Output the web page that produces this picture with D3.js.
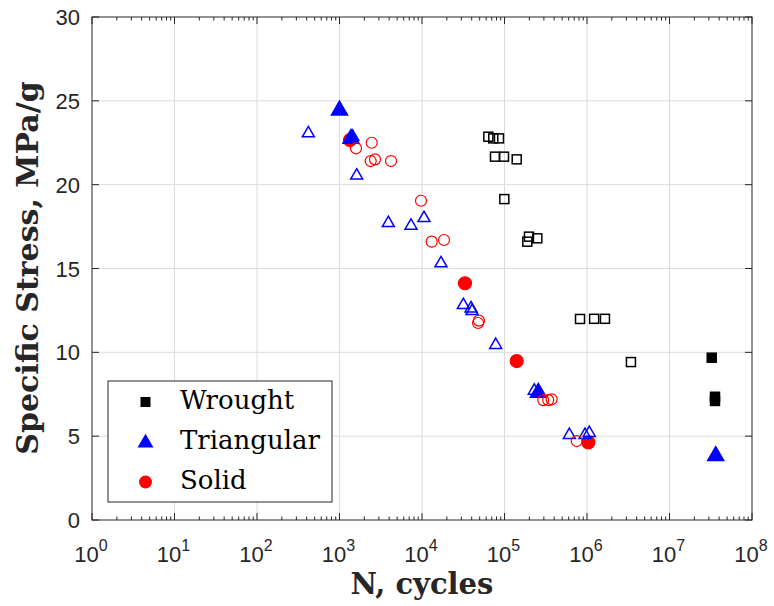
<!DOCTYPE html>
<html>
<head>
<meta charset="utf-8">
<script src="https://cdn.jsdelivr.net/npm/d3@7"></script>
<style>
  body { margin: 0; background: #fff; }
  svg { display: block; }
</style>
</head>
<body>
<svg id="chart" width="774" height="606"></svg>
<script>
// wrought alloy, open = test, filled = runout
var wroughtOpenN = [63700, 73100, 85700, 76700, 98600, 140600, 99500, 198000, 250000, 189000, 823000, 1220000, 1650000, 3410000];
var wroughtOpenS = [22.86, 22.76, 22.76, 21.67, 21.67, 21.51, 19.14, 16.90, 16.80, 16.60, 11.99, 12.0, 12.0, 9.42];
var wroughtFilledN = [32500000, 35600000, 35600000];
var wroughtFilledS = [9.68, 7.35, 7.1];

var triOpenN = [419, 1445, 1615, 3910, 7360, 10570, 16980, 31700, 39300, 40400, 78200, 229600, 611000, 946000, 1066000];
var triOpenS = [23.1, 22.9, 20.58, 17.75, 17.59, 18.05, 15.35, 12.86, 12.66, 12.5, 10.48, 7.75, 5.11, 5.11, 5.23];
var triFilledN = [1000, 1378, 257000, 36300000];
var triFilledS = [24.49, 22.8, 7.65, 3.88];

var solidOpenN = [1585, 2456, 2388, 2692, 4210, 9727, 13100, 18490, 49000, 47800, 295000, 339000, 373000, 750000];
var solidOpenS = [22.17, 22.5, 21.41, 21.51, 21.41, 19.04, 16.6, 16.7, 11.89, 11.75, 7.15, 7.15, 7.2, 4.71];
var solidFilledN = [1340, 33200, 140600, 1038000];
var solidFilledS = [22.66, 14.12, 9.48, 4.63];

var xTicks = [1, 10, 100, 1e3, 1e4, 1e5, 1e6, 1e7, 1e8];
var yTicks = [0, 5, 10, 15, 20, 25, 30];
var legendNames = ['Wrought', 'Triangular', 'Solid'];
var legendColors = ['#000000', '#0000ff', '#ff0000'];

var plotLeft = 92, plotRight = 752, plotTop = 17, plotBottom = 520;

var svg = d3.select('#chart');
var x = d3.scaleLog().domain([1, 1e8]).range([plotLeft, plotRight]);
var y = d3.scaleLinear().domain([0, 30]).range([plotBottom, plotTop]);

// grid
svg.append('g').selectAll('line').data(xTicks.slice(1, -1)).enter()
    .append('line')
        .attr('x1', function(d) { return x(d); })
        .attr('x2', function(d) { return x(d); })
        .attr('y1', plotTop).attr('y2', plotBottom)
        .attr('stroke', '#dcdcdc').attr('stroke-width', 1);
svg.append('g').selectAll('line').data(yTicks.slice(1, -1)).enter()
    .append('line')
        .attr('x1', plotLeft).attr('x2', plotRight)
        .attr('y1', function(d) { return y(d); })
        .attr('y2', function(d) { return y(d); })
        .attr('stroke', '#dcdcdc').attr('stroke-width', 1);

// ticks inside the box
var minor = [];
for (var e = 0; e < 8; e++) {
    for (var m = 2; m < 10; m++) minor.push(m * Math.pow(10, e));
}
var tickG = svg.append('g').attr('stroke', '#262626').attr('stroke-width', 1);
minor.forEach(function(d) {
    tickG.append('line').attr('x1', x(d)).attr('x2', x(d)).attr('y1', plotBottom).attr('y2', plotBottom - 3.5);
    tickG.append('line').attr('x1', x(d)).attr('x2', x(d)).attr('y1', plotTop).attr('y2', plotTop + 3.5);
});
xTicks.forEach(function(d) {
    tickG.append('line').attr('x1', x(d)).attr('x2', x(d)).attr('y1', plotBottom).attr('y2', plotBottom - 7);
    tickG.append('line').attr('x1', x(d)).attr('x2', x(d)).attr('y1', plotTop).attr('y2', plotTop + 7);
});
yTicks.forEach(function(d) {
    tickG.append('line').attr('x1', plotLeft).attr('x2', plotLeft + 7).attr('y1', y(d)).attr('y2', y(d));
    tickG.append('line').attr('x1', plotRight).attr('x2', plotRight - 7).attr('y1', y(d)).attr('y2', y(d));
});

svg.append('rect')
    .attr('x', plotLeft).attr('y', plotTop)
    .attr('width', plotRight - plotLeft).attr('height', plotBottom - plotTop)
    .attr('fill', 'none').attr('stroke', '#262626').attr('stroke-width', 1);

// tick labels
svg.append('g').selectAll('text').data(yTicks).enter()
    .append('text')
        .attr('x', plotLeft - 12)
        .attr('y', function(d) { return y(d) + 8; })
        .attr('text-anchor', 'end')
        .attr('font-family', 'Liberation Sans, Arial, sans-serif')
        .attr('font-size', 22)
        .attr('fill', '#262626')
        .text(function(d) { return d; });

var xl = svg.append('g').selectAll('text').data(xTicks).enter()
    .append('text')
        .attr('x', function(d) { return x(d) - 1; })
        .attr('y', 562)
        .attr('text-anchor', 'middle')
        .attr('font-family', 'Liberation Sans, Arial, sans-serif')
        .attr('font-size', 22)
        .attr('fill', '#262626');
xl.append('tspan').text('10');
xl.append('tspan')
    .attr('dy', -11)
    .attr('font-size', 16)
    .text(function(d) { return Math.round(Math.log10(d)); });

// axis titles
svg.append('text')
    .attr('x', 422).attr('y', 594)
    .attr('text-anchor', 'middle')
    .attr('font-family', 'DejaVu Serif, serif')
    .attr('font-weight', 'bold')
    .attr('font-size', 29)
    .attr('fill', '#262626')
    .text('N, cycles');
svg.append('text')
    .attr('transform', 'translate(38,268) rotate(-90)')
    .attr('text-anchor', 'middle')
    .attr('font-family', 'DejaVu Serif, serif')
    .attr('font-weight', 'bold')
    .attr('font-size', 30)
    .attr('fill', '#262626')
    .text('Specific Stress, MPa/g');

// markers
var triPath = function(size) {
    var h = size * 0.866;
    return 'M0,' + (-h * 0.6) + 'L' + (size / 2) + ',' + (h * 0.4) + 'L' + (-size / 2) + ',' + (h * 0.4) + 'Z';
};

function pts(ns, ss) {
    return ns.map(function(n, i) { return {n: n, s: ss[i]}; });
}

function drawSquares(data, size, filled) {
    svg.append('g').selectAll('rect').data(data).enter()
        .append('rect')
            .attr('x', function(d) { return x(d.n) - size / 2; })
            .attr('y', function(d) { return y(d.s) - size / 2; })
            .attr('width', size).attr('height', size)
            .attr('fill', filled ? '#000' : 'none')
            .attr('stroke', '#000')
            .attr('stroke-width', 1.5);
}

function drawTriangles(data, size, filled) {
    svg.append('g').selectAll('path').data(data).enter()
        .append('path')
            .attr('transform', function(d) { return 'translate(' + x(d.n) + ',' + y(d.s) + ')'; })
            .attr('d', triPath(size))
            .attr('fill', filled ? '#0000ff' : 'none')
            .attr('stroke', '#0000ff')
            .attr('stroke-width', 1.5);
}

function drawCircles(data, r, filled) {
    svg.append('g').selectAll('circle').data(data).enter()
        .append('circle')
            .attr('cx', function(d) { return x(d.n); })
            .attr('cy', function(d) { return y(d.s); })
            .attr('r', r)
            .attr('fill', filled ? '#ff0000' : 'none')
            .attr('stroke', '#ff0000')
            .attr('stroke-width', 1.2);
}

drawSquares(pts(wroughtOpenN, wroughtOpenS), 9, false);
drawSquares(pts(wroughtFilledN, wroughtFilledS), 9, true);
drawCircles(pts(solidFilledN, solidFilledS), 6.5, true);
drawTriangles(pts(triFilledN, triFilledS), 16, true);
drawTriangles(pts(triOpenN, triOpenS), 12, false);
drawCircles(pts(solidOpenN, solidOpenS), 5.5, false);

// legend
var lg = svg.append('g');
lg.append('rect')
    .attr('x', 108).attr('y', 381)
    .attr('width', 224).attr('height', 121)
    .attr('fill', '#fff').attr('stroke', '#262626').attr('stroke-width', 1);
legendNames.forEach(function(name, i) {
    var cy = 402 + i * 40;
    if (i === 0) {
        lg.append('rect').attr('x', 140.5).attr('y', cy - 5).attr('width', 10).attr('height', 10).attr('fill', legendColors[i]);
    } else if (i === 1) {
        lg.append('path').attr('transform', 'translate(145.5,' + cy + ')').attr('d', triPath(16)).attr('fill', legendColors[i]);
    } else {
        lg.append('circle').attr('cx', 145.5).attr('cy', cy).attr('r', 6.5).attr('fill', legendColors[i]);
    }
    lg.append('text')
        .attr('x', 180).attr('y', cy + 7)
        .attr('font-family', 'DejaVu Serif, serif')
        .attr('font-size', 26)
        .attr('fill', '#000')
        .text(name);
});
</script>
</body>
</html>
